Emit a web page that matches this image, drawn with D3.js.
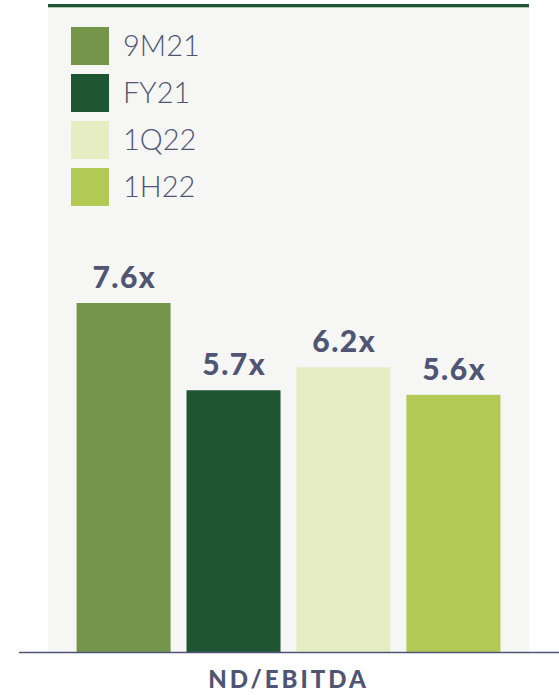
<!DOCTYPE html>
<html>
<head>
	<meta charset="UTF-8">
	<script src="https://cdn.jsdelivr.net/npm/d3@7"></script>
	<style>
		body { margin: 0; background: #fff; }
		.legend-label { font-family: Lato, sans-serif; font-weight: 300; fill: #4f5572; }
		.value-label { font-family: Lato, sans-serif; font-weight: 900; fill: #4f5572; letter-spacing: 1.5px; }
		.title { font-family: Lato, sans-serif; font-weight: 900; fill: #4f5572; letter-spacing: 3px; }
	</style>
</head>
<body>
	<script>
		// data
		const categories = ['9M21', 'FY21', '1Q22', '1H22'];
		const values = [7.6, 5.7, 6.2, 5.6];
		const valueLabels = ['7.6x', '5.7x', '6.2x', '5.6x'];
		const colors = ['#74954a', '#1f5632', '#e6edc2', '#b2c953'];
		const chartTitle = 'ND/EBITDA';

		const width = 559, height = 695;
		const panel = {left: 48, right: 529, top: 4};
		const baseline = 652;

		const svg = d3.select('body').append('svg')
			.attr('width', width)
			.attr('height', height);

		// panel background + top rule
		svg.append('rect')
			.attr('x', panel.left).attr('y', panel.top)
			.attr('width', panel.right - panel.left)
			.attr('height', baseline - panel.top)
			.attr('fill', '#f6f6f4');

		svg.append('rect')
			.attr('x', panel.left).attr('y', panel.top)
			.attr('width', panel.right - panel.left)
			.attr('height', 3.3)
			.attr('fill', '#1e5631');

		const x = d3.scaleBand()
			.domain(categories)
			.range([panel.left, panel.right])
			.paddingInner(0.145)
			.paddingOuter(0.26);

		const y = d3.scaleLinear()
			.domain([0, 7.6])
			.range([baseline, 303]);

		svg.append('g')
			.selectAll('rect')
			.data(categories)
			.join('rect')
				.attr('x', d => x(d))
				.attr('y', (d, i) => y(values[i]))
				.attr('width', x.bandwidth())
				.attr('height', (d, i) => baseline - y(values[i]))
				.attr('fill', (d, i) => colors[i]);

		// letter-spacing pads the end of the string, so nudge by half of it
		svg.append('g')
			.selectAll('text')
			.data(categories)
			.join('text')
				.attr('class', 'value-label')
				.attr('x', d => x(d) + x.bandwidth() / 2 + 0.75)
				.attr('y', (d, i) => y(values[i]) - 15)
				.attr('text-anchor', 'middle')
				.style('font-size', '30px')
				.text((d, i) => valueLabels[i]);

		// axis line
		svg.append('line')
			.attr('x1', 19).attr('x2', width)
			.attr('y1', baseline + 0.5).attr('y2', baseline + 0.5)
			.attr('stroke', '#4f5578')
			.attr('stroke-width', 1.5);

		svg.append('text')
			.attr('class', 'title')
			.attr('x', 287 + 1.5)
			.attr('y', 688)
			.attr('text-anchor', 'middle')
			.style('font-size', '24px')
			.text(chartTitle);

		// legend
		const legend = svg.append('g')
			.selectAll('g')
			.data(categories)
			.join('g')
				.attr('transform', (d, i) => `translate(71,${27 + i * 47})`);

		legend.append('rect')
			.attr('width', 38).attr('height', 38)
			.attr('fill', (d, i) => colors[i]);

		legend.append('text')
			.attr('class', 'legend-label')
			.attr('x', 52)
			.attr('y', 29)
			.style('font-size', '29px')
			.text(d => d);
	</script>
</body>
</html>
